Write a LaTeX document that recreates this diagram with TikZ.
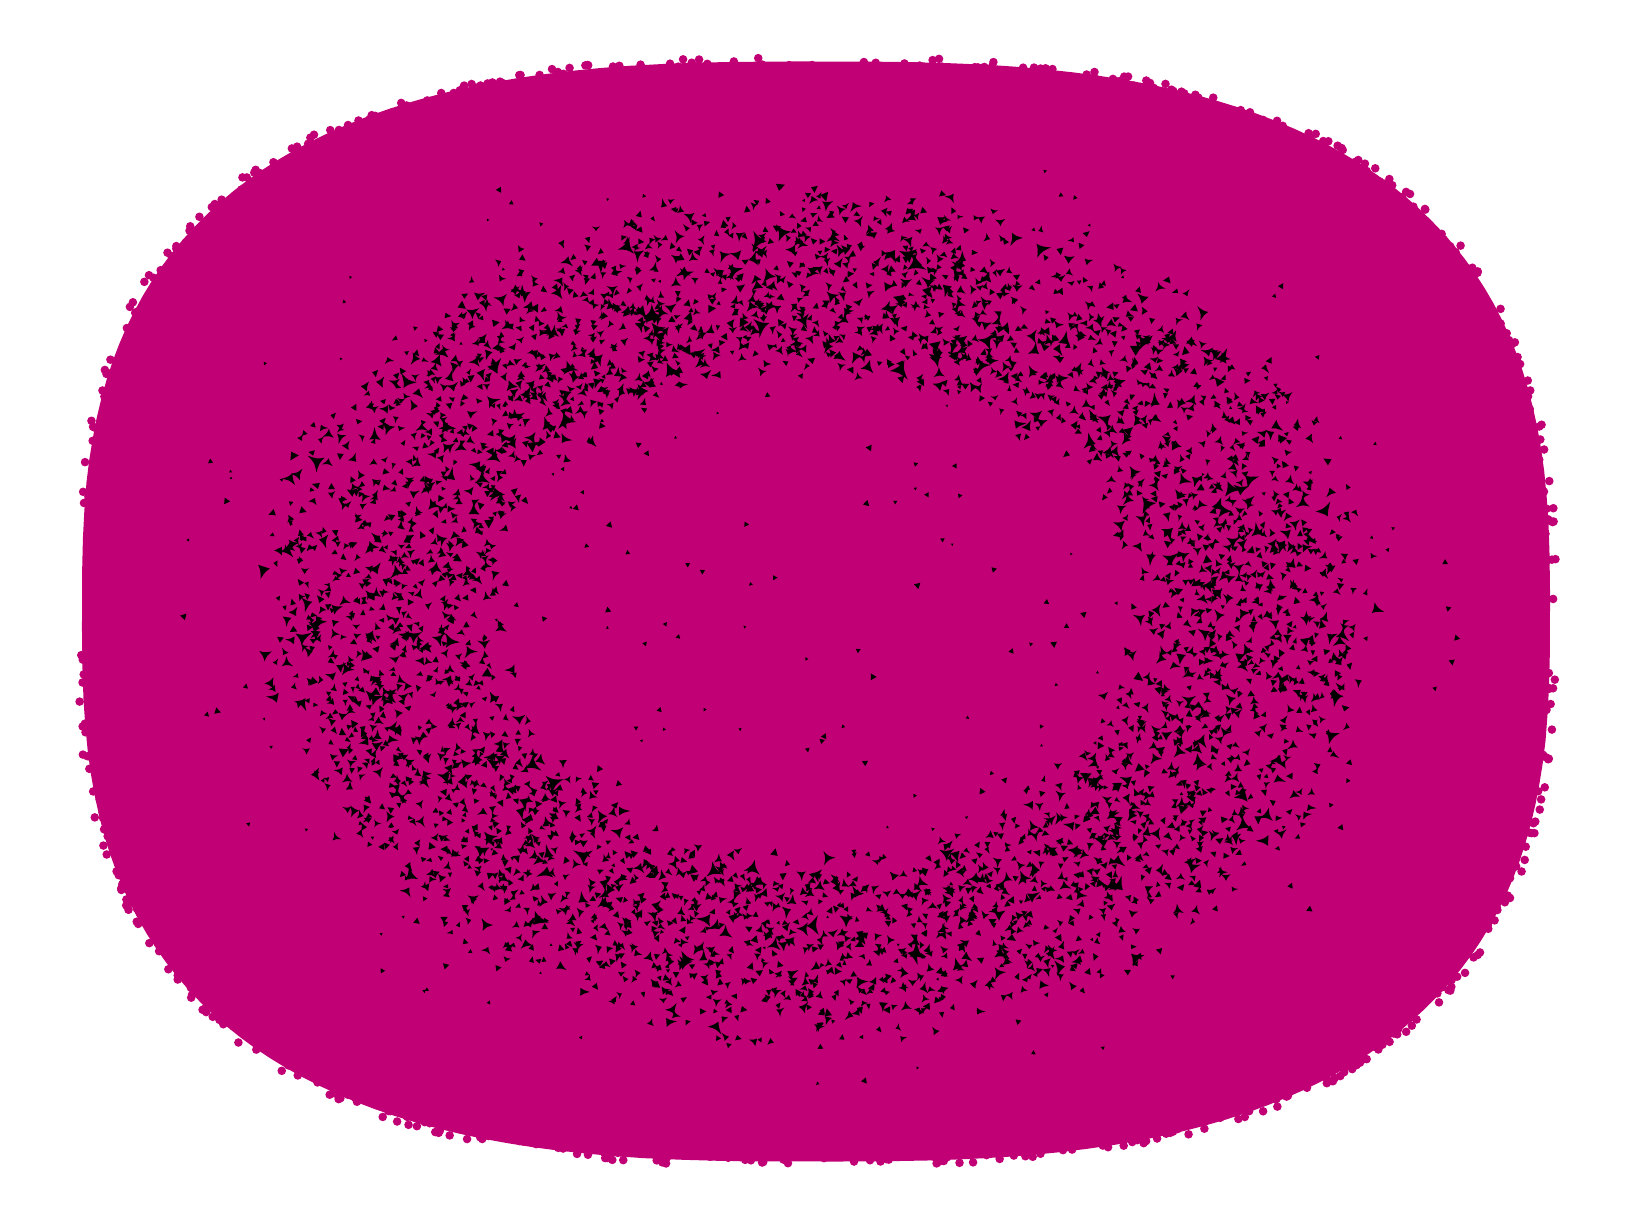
\documentclass[tikz,border=0pt]{standalone}
\definecolor{mag}{RGB}{194,0,117}
\tikzset{dotfill/.style={fill=mag}, gapfill/.style={fill=black}}
\begin{document}
\begin{tikzpicture}[x=1pt,y=1pt]
\useasboundingbox (0,0) rectangle (1632,1224);
\pgfmathsetseed{11}
% main body (superellipse)
\fill[mag] plot[domain=0.5:358.5,samples=180]
  ({816+734*sign(cos(\x))*pow(abs(cos(\x))+0.00001,0.72)},
   {612.5+550*sign(sin(\x))*pow(abs(sin(\x))+0.00001,0.72)}) -- cycle;
% bumpy rim of nodes
\foreach \i in {1,...,1000}{
  \pgfmathsetmacro\t{360*rnd}
  \pgfmathsetmacro\s{0.978+0.03*rnd}
  \pgfmathsetmacro\px{816+734*\s*sign(cos(\t))*pow(abs(cos(\t))+0.00001,0.72)}
  \pgfmathsetmacro\py{612.5+550*\s*sign(sin(\t))*pow(abs(sin(\t))+0.00001,0.72)}
  \fill[dotfill] (\px,\py) circle[radius=4.3pt];
}
% ring of gaps between nodes
\foreach \i in {1,...,4300}{
  \pgfmathsetmacro\t{360*rnd}
  \pgfmathsetmacro\s{0.64+0.42*rnd+0.14*rnd}
  \pgfmathsetmacro\px{817+477*\s*cos(\t)}
  \pgfmathsetmacro\py{611+364*\s*sin(\t)}
  \pgfmathsetmacro\R{3.6+7.5*rnd*rnd*rnd}
  \pgfmathsetmacro\ra{\R*(0.6+0.7*rnd)}
  \pgfmathsetmacro\rb{\R*(0.6+0.7*rnd)}
  \pgfmathsetmacro\rc{\R*(0.6+0.7*rnd)}
  \pgfmathsetmacro\a{120*rnd}
  \pgfmathsetmacro\c{0.3*\R}
  \fill[gapfill,shift={(\px,\py)}] (\a:\ra) .. controls (\a+60:\c) .. (\a+120:\rb)
     .. controls (\a+180:\c) .. (\a+240:\rc) .. controls (\a+300:\c) .. cycle;
}
% sparse specks elsewhere
\foreach \i in {1,...,300}{
  \pgfmathsetmacro\t{360*rnd}
  \pgfmathsetmacro\s{1.35*sqrt(rnd)}
  \pgfmathsetmacro\px{817+477*\s*cos(\t)}
  \pgfmathsetmacro\py{611+364*\s*sin(\t)}
  \pgfmathsetmacro\R{1.5+2.5*rnd}
  \pgfmathsetmacro\a{120*rnd}
  \pgfmathsetmacro\c{0.25*\R}
  \fill[gapfill,shift={(\px,\py)}] (\a:\R) .. controls (\a+60:\c) .. (\a+120:\R)
     .. controls (\a+180:\c) .. (\a+240:\R) .. controls (\a+300:\c) .. cycle;
}
\end{tikzpicture}
\end{document}
